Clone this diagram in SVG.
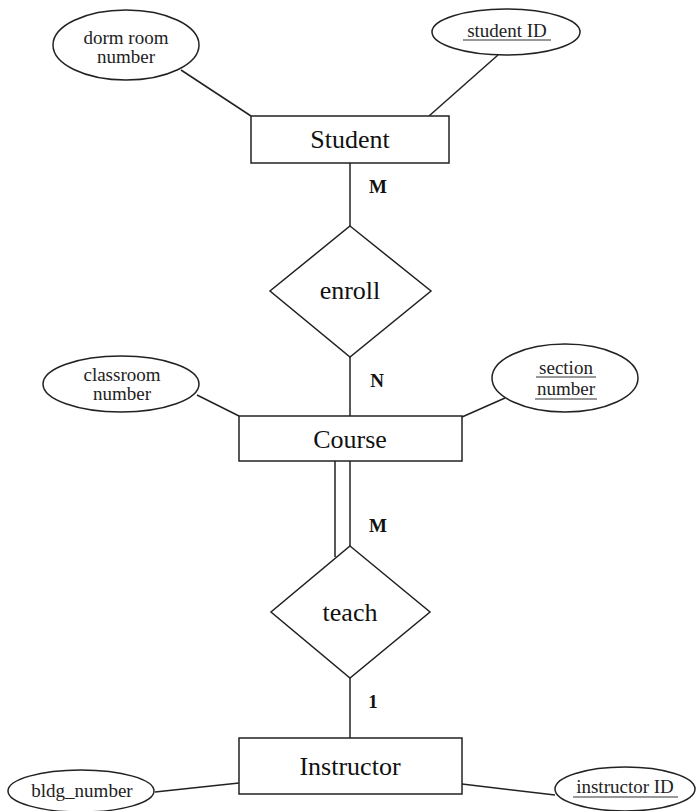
<svg xmlns="http://www.w3.org/2000/svg" width="696" height="811" viewBox="0 0 696 811">
  <style>
    .shape { fill: #fff; stroke: #222; stroke-width: 1.5; }
    .link { stroke: #222; stroke-width: 1.5; fill: none; }
    .ul { stroke: #333; stroke-width: 1.2; }
    .ent { font-family: "Liberation Serif", "Times New Roman", serif; font-size: 26px; fill: #111; text-anchor: middle; }
    .att { font-family: "Liberation Serif", "Times New Roman", serif; font-size: 19px; fill: #222; text-anchor: middle; }
    .card { font-family: "Liberation Serif", "Times New Roman", serif; font-size: 19px; font-weight: bold; fill: #111; text-anchor: middle; }
  </style>
  <rect width="696" height="811" fill="#fff"/>

  <!-- connectors -->
  <g id="connectors">
    <line class="link" x1="181" y1="70" x2="251" y2="116"/>
    <line class="link" x1="498" y1="55" x2="429" y2="116"/>
    <line class="link" x1="350" y1="163" x2="350" y2="226"/>
    <line class="link" x1="350" y1="357" x2="350" y2="416"/>
    <line class="link" x1="197" y1="395" x2="239" y2="416"/>
    <line class="link" x1="505" y1="398" x2="462" y2="417"/>
    <!-- total participation: double line Course–teach -->
    <line class="link" x1="335" y1="461" x2="335" y2="557"/>
    <line class="link" x1="350" y1="461" x2="350" y2="546"/>
    <line class="link" x1="350" y1="678" x2="350" y2="738"/>
    <line class="link" x1="155" y1="792" x2="239" y2="783"/>
    <line class="link" x1="462" y1="784" x2="555" y2="795"/>
    <text class="card" x="378" y="193">M</text>
    <text class="card" x="377" y="387">N</text>
    <text class="card" x="378" y="532">M</text>
    <text class="card" x="373" y="708">1</text>
  </g>

  <!-- entities -->
  <g id="student">
    <rect class="shape" x="251" y="116" width="198" height="47"/>
    <text class="ent" x="350" y="148">Student</text>
  </g>
  <g id="course">
    <rect class="shape" x="239" y="416" width="223" height="45"/>
    <text class="ent" x="350" y="448">Course</text>
  </g>
  <g id="instructor">
    <rect class="shape" x="239" y="738" width="223" height="56"/>
    <text class="ent" x="350" y="775">Instructor</text>
  </g>

  <!-- relationships -->
  <g id="enroll">
    <polygon class="shape" points="350,226 431,291 350,357 270,291"/>
    <text class="ent" x="350" y="299">enroll</text>
  </g>
  <g id="teach">
    <polygon class="shape" points="350,546 430,612 350,678 271,612"/>
    <text class="ent" x="350" y="621">teach</text>
  </g>

  <!-- attributes -->
  <g id="dorm-room-number">
    <ellipse class="shape" cx="126" cy="45" rx="73" ry="35"/>
    <text class="att" x="126" y="44">dorm room</text>
    <text class="att" x="126" y="63">number</text>
  </g>
  <g id="student-id">
    <ellipse class="shape" cx="506" cy="32" rx="74" ry="23"/>
    <text class="att" x="507" y="37">student ID</text>
    <line class="ul" x1="463" y1="40" x2="551" y2="40"/>
  </g>
  <g id="classroom-number">
    <ellipse class="shape" cx="121" cy="384" rx="78" ry="28"/>
    <text class="att" x="122" y="381">classroom</text>
    <text class="att" x="122" y="400">number</text>
  </g>
  <g id="section-number">
    <ellipse class="shape" cx="565" cy="378" rx="73" ry="34"/>
    <text class="att" x="566" y="374">section</text>
    <line class="ul" x1="536" y1="377" x2="596" y2="377"/>
    <text class="att" x="566" y="395">number</text>
    <line class="ul" x1="535" y1="399" x2="597" y2="399"/>
  </g>
  <g id="bldg-number">
    <ellipse class="shape" cx="81" cy="791" rx="73" ry="21"/>
    <text class="att" x="82" y="797">bldg_number</text>
  </g>
  <g id="instructor-id">
    <ellipse class="shape" cx="625" cy="789" rx="70" ry="22"/>
    <text class="att" x="625" y="793">instructor ID</text>
    <line class="ul" x1="573" y1="797" x2="678" y2="797"/>
  </g>
</svg>
